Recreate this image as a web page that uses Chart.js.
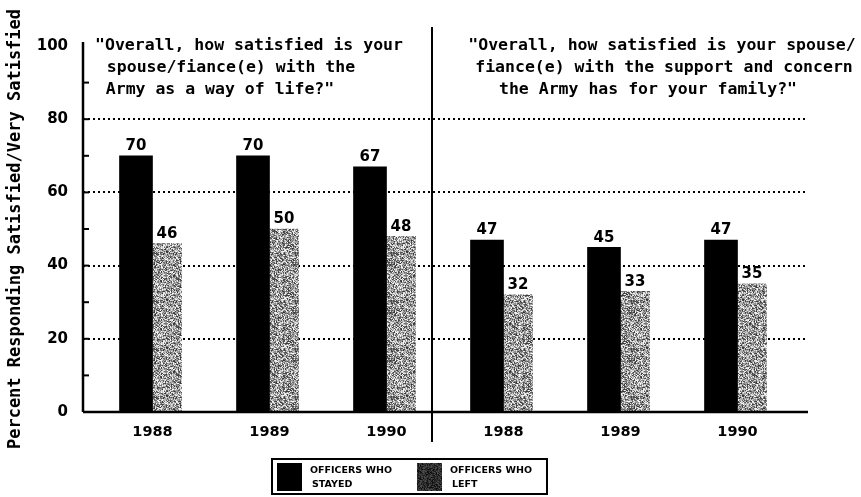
<!DOCTYPE html>
<html>
<head>
<meta charset="utf-8">
<script src="https://cdn.jsdelivr.net/npm/chart.js@4.4.1/dist/chart.umd.min.js"></script>
<style>
  html, body { margin: 0; padding: 0; background: #ffffff; }
  #wrap { width: 861px; height: 497px; position: relative; }
</style>
</head>
<body>
<div id="wrap"><canvas id="c" width="861" height="497"></canvas></div>
<script>
// ---- data ----
const categories = ['1988', '1989', '1990', '1988', '1989', '1990'];
const stayedValues = [70, 70, 67, 47, 45, 47];
const leftValues = [46, 50, 48, 32, 33, 35];
const yTicks = [0, 20, 40, 60, 80, 100];
const seriesNames = [['OFFICERS WHO', 'STAYED'], ['OFFICERS WHO', 'LEFT']];
const panelTitles = [
  ['"Overall, how satisfied is your', 'spouse/fiance(e) with the', 'Army as a way of life?"'],
  ['"Overall, how satisfied is your spouse/', 'fiance(e) with the support and concern', 'the Army has for your family?"']
];
const yTitle = 'Percent Responding Satisfied/Very Satisfied';

// ---- grainy gray texture ----
function makePattern(dark) {
  const s = 48;
  const cv = document.createElement('canvas');
  cv.width = s; cv.height = s;
  const cx = cv.getContext('2d');
  const img = cx.createImageData(s, s);
  for (let y = 0; y < s; y++) {
    for (let x = 0; x < s; x++) {
      let h = Math.sin(x * 12.9898 + y * 78.233) * 43758.5453;
      h = h - Math.floor(h);
      let g = dark ? 10 + h * 70 : 50 + h * 205;
      const i = (y * s + x) * 4;
      img.data[i] = img.data[i + 1] = img.data[i + 2] = g;
      img.data[i + 3] = 255;
    }
  }
  cx.putImageData(img, 0, 0);
  return cx.createPattern(cv, 'repeat');
}
const grayPattern = makePattern(false);
const darkPattern = makePattern(true);

const AXIS_LEFT = 83, AXIS_RIGHT = 808, DIVIDER_X = 432;

const decorPlugin = {
  id: 'decor',
  beforeDatasetsDraw(chart) {
    const { ctx } = chart;
    const ys = chart.scales.y;
    ctx.save();
    ctx.strokeStyle = '#000';
    ctx.lineWidth = 2;
    ctx.setLineDash([2, 3]);
    [20, 40, 60, 80].forEach(v => {
      const py = Math.round(ys.getPixelForValue(v));
      ctx.beginPath();
      ctx.moveTo(AXIS_LEFT, py);
      ctx.lineTo(AXIS_RIGHT, py);
      ctx.stroke();
    });
    ctx.restore();
  },
  afterDatasetsDraw(chart) {
    const { ctx } = chart;
    const ys = chart.scales.y;
    const y0 = ys.getPixelForValue(0);
    const y100 = ys.getPixelForValue(100);
    ctx.save();
    ctx.strokeStyle = '#000';
    ctx.lineWidth = 2.5;
    // y axis
    ctx.beginPath();
    ctx.moveTo(AXIS_LEFT, y100 - 4);
    ctx.lineTo(AXIS_LEFT, y0);
    ctx.stroke();
    // x axis
    ctx.beginPath();
    ctx.moveTo(AXIS_LEFT, y0);
    ctx.lineTo(AXIS_RIGHT, y0);
    ctx.stroke();
    // minor ticks
    ctx.lineWidth = 2;
    for (let v = 10; v < 100; v += 10) {
      const py = ys.getPixelForValue(v);
      ctx.beginPath();
      ctx.moveTo(AXIS_LEFT, py);
      ctx.lineTo(AXIS_LEFT + 6, py);
      ctx.stroke();
    }
    // divider
    ctx.beginPath();
    ctx.moveTo(DIVIDER_X, 27);
    ctx.lineTo(DIVIDER_X, 442);
    ctx.stroke();

    // value labels
    ctx.fillStyle = '#000';
    ctx.font = 'bold 15px "DejaVu Sans"';
    ctx.textAlign = 'center';
    ctx.textBaseline = 'bottom';
    chart.data.datasets.forEach((ds, di) => {
      const meta = chart.getDatasetMeta(di);
      meta.data.forEach((bar, i) => {
        ctx.fillText(String(ds.data[i]), bar.x, bar.y - 2);
      });
    });

    // panel titles
    ctx.font = 'bold 16.5px "DejaVu Sans Mono"';
    ctx.textBaseline = 'middle';
    const centers = [[249, 231, 220], [662, 664, 648]];
    const lineY = [46, 68, 90];
    panelTitles.forEach((lines, p) => {
      lines.forEach((t, li) => ctx.fillText(t, centers[p][li], lineY[li]));
    });

    // legend
    ctx.lineWidth = 2;
    ctx.setLineDash([]);
    ctx.strokeRect(272, 459, 275, 35);
    const sw = [{ x: 277, fill: '#000' }, { x: 417, fill: darkPattern }];
    ctx.font = 'bold 9.5px "DejaVu Sans"';
    ctx.textAlign = 'left';
    sw.forEach((s, k) => {
      ctx.fillStyle = s.fill;
      ctx.fillRect(s.x, 463, 25, 28);
      ctx.fillStyle = '#000';
      ctx.fillText(seriesNames[k][0], s.x + 33, 471);
      ctx.fillText(seriesNames[k][1], s.x + 35, 485);
    });
    ctx.restore();
  }
};

new Chart(document.getElementById('c'), {
  type: 'bar',
  data: {
    labels: categories,
    datasets: [
      { label: 'Officers Who Stayed', data: stayedValues, backgroundColor: '#000000', barThickness: 33 },
      { label: 'Officers Who Left', data: leftValues, backgroundColor: grayPattern, barThickness: 29 }
    ]
  },
  options: {
    responsive: false,
    animation: false,
    devicePixelRatio: 1,
    layout: { padding: { left: 0, top: 46, right: 65, bottom: 0 } },
    plugins: {
      legend: { display: false },
      tooltip: { enabled: false }
    },
    scales: {
      x: {
        grid: { display: false, drawTicks: false },
        border: { display: false },
        ticks: { color: '#000', font: { family: 'DejaVu Sans', weight: 'bold', size: 14.5 }, padding: 12, maxRotation: 0 },
        afterFit(scale) { scale.height = 85; }
      },
      y: {
        min: 0, max: 100,
        afterBuildTicks(scale) { scale.ticks = yTicks.map(v => ({ value: v })); },
        grid: { display: false, drawTicks: false },
        border: { display: false },
        ticks: { color: '#000', font: { family: 'DejaVu Sans', weight: 'bold', size: 15 }, padding: 26 },
        title: {
          display: true, text: yTitle, color: '#000',
          font: { family: 'DejaVu Sans Mono', weight: 'bold', size: 17 },
          padding: { top: 5, bottom: 0 }
        },
        afterFit(scale) { scale.width = 94; }
      }
    }
  },
  plugins: [decorPlugin]
});
</script>
</body>
</html>
